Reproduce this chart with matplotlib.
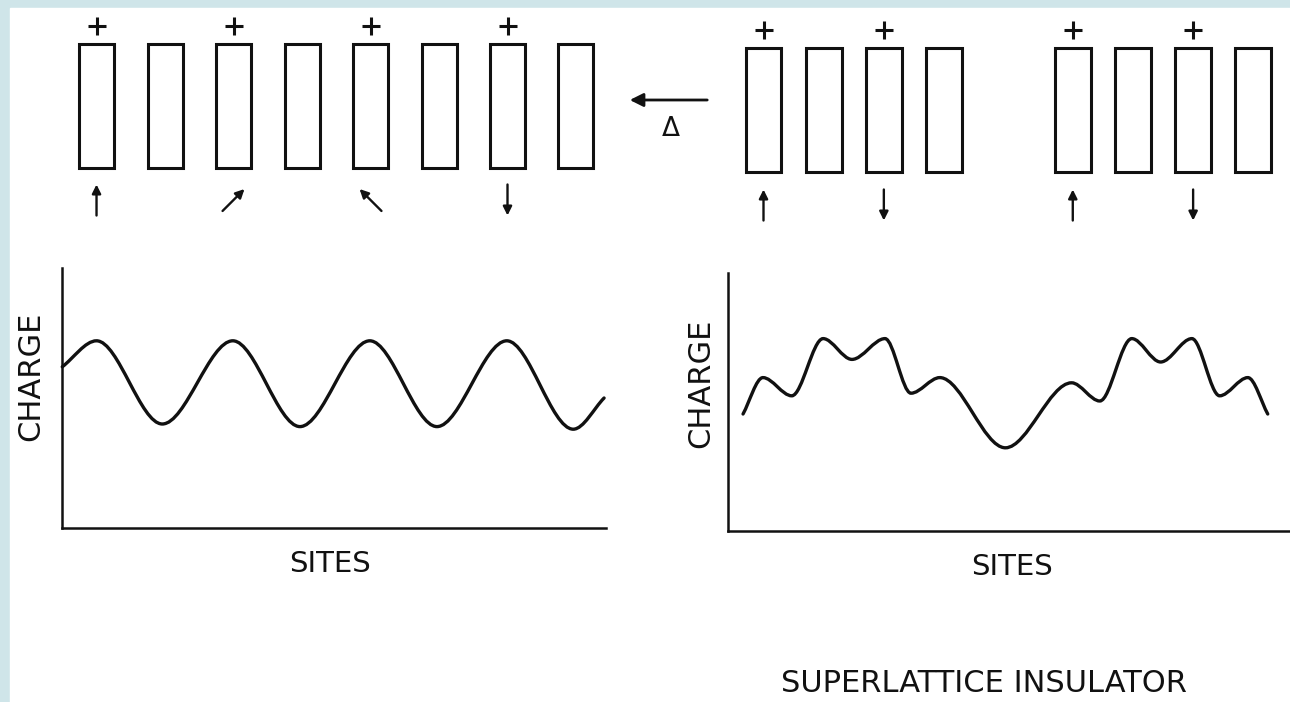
#!/usr/bin/env python3
"""
Charge density wave vs superlattice insulator sketch
"""

import numpy as np
import matplotlib.pyplot as plt
from matplotlib.path import Path
from matplotlib.patches import PathPatch, Rectangle, FancyArrowPatch
from matplotlib.transforms import ScaledTranslation

W, H, DPI = 1290, 702, 100
INK = '#111111'

# --- data ---
# left: uniform chain of 8 sites, charge on every other site
left_sites = np.arange(8)
left_plus = [0, 2, 4, 6]
left_spin_sites = [0, 2, 4, 6]
left_spin_deg = [90, 45, 135, 270]
# charge profile read at its turning points (x in site units)
left_x = [-0.50, 0.00, 0.96, 1.99, 2.97, 3.99, 4.97, 5.99, 6.96, 7.41]
left_q = [0.62, 0.72, 0.40, 0.72, 0.39, 0.72, 0.39, 0.72, 0.38, 0.50]

# right: superlattice, two blocks of 4 sites
right_sites = np.arange(8)
right_plus = [0, 2, 4, 6]
right_spin_sites = [0, 2, 4, 6]
right_spin_deg = [90, 270, 90, 270]
right_x = [-0.34, -0.01, 0.47, 0.99, 1.47, 2.02, 2.45, 2.93, 4.02,
           5.12, 5.59, 6.12, 6.60, 7.12, 7.58, 8.05, 8.38]
right_q = [0.45, 0.59, 0.52, 0.74, 0.66, 0.74, 0.53, 0.59, 0.32,
           0.57, 0.50, 0.74, 0.65, 0.74, 0.52, 0.59, 0.45]

BLOCK_GAP = 1.14  # extra spacing between the two superlattice blocks


def px_axes(fig, x0, y0, x1, y1):
    return fig.add_axes([x0 / W, 1 - y1 / H, (x1 - x0) / W, (y1 - y0) / H])


def smooth_path(xs, ys):
    # monotone cubic (pchip-style) through the read points, as Bezier segments
    x = np.asarray(xs, float)
    y = np.asarray(ys, float)
    h = np.diff(x)
    d = np.diff(y) / h
    m = np.zeros_like(x)
    m[0], m[-1] = d[0], d[-1]
    for i in range(1, len(x) - 1):
        if d[i - 1] * d[i] > 0:
            w1 = 2 * h[i] + h[i - 1]
            w2 = h[i] + 2 * h[i - 1]
            m[i] = (w1 + w2) / (w1 / d[i - 1] + w2 / d[i])
    verts = [(x[0], y[0])]
    codes = [Path.MOVETO]
    for i in range(len(x) - 1):
        verts += [(x[i] + h[i] / 3, y[i] + m[i] * h[i] / 3),
                  (x[i + 1] - h[i] / 3, y[i + 1] - m[i + 1] * h[i] / 3),
                  (x[i + 1], y[i + 1])]
        codes += [Path.CURVE4] * 3
    return Path(verts, codes)


def spin_arrow(fig, ax, x, yc, deg, length=31):
    dx = np.cos(np.radians(deg)) * length / 2 / DPI
    dy = np.sin(np.radians(deg)) * length / 2 / DPI
    head = ax.transData + ScaledTranslation(dx, dy, fig.dpi_scale_trans)
    tail = ax.transData + ScaledTranslation(-dx, -dy, fig.dpi_scale_trans)
    ax.annotate('', xy=(x, yc), xycoords=head, xytext=(x, yc), textcoords=tail,
                arrowprops=dict(arrowstyle='-|>', lw=1.7, color=INK,
                                mutation_scale=13, shrinkA=0, shrinkB=0))


def draw_row(fig, ax, pos, width, y_top, y_bot, plus, plus_y, spins, spin_deg, spin_y):
    for x in pos:
        ax.add_patch(Rectangle((x - width / 2, y_top), width, y_bot - y_top,
                               fill=False, lw=2.2, ec=INK))
    ax.plot(pos[plus], [plus_y] * len(plus), ls='none', marker='+',
            ms=13, mew=2.2, color=INK)
    for s, d in zip(spins, spin_deg):
        spin_arrow(fig, ax, pos[s], spin_y, d)


def draw_curve(ax, xs, qs):
    ax.add_patch(PathPatch(smooth_path(xs, qs), fill=False, lw=2.4, ec=INK,
                           capstyle='round', joinstyle='round', clip_on=False))
    for side in ['top', 'right']:
        ax.spines[side].set_visible(False)
    for side in ['left', 'bottom']:
        ax.spines[side].set_linewidth(1.8)
        ax.spines[side].set_color(INK)
    ax.set_xticks([])
    ax.set_yticks([])
    ax.patch.set_alpha(0)


fig = plt.figure(figsize=(W / DPI, H / DPI), dpi=DPI, facecolor='#cfe5e9')
fig.patches.append(Rectangle((10 / W, 0), 1, 1 - 8 / H, transform=fig.transFigure,
                             color='white', zorder=-1))

# left panel
ax_lt = px_axes(fig, 62, 0, 606, 250)
ax_lt.set_xlim(-0.504, 7.438)
ax_lt.set_ylim(250, 0)
ax_lt.axis('off')
draw_row(fig, ax_lt, left_sites.astype(float), 35 / 68.5, 44, 168,
         left_plus, 26, left_spin_sites, left_spin_deg, 200)

ax_lb = px_axes(fig, 62, 268, 606, 528)
ax_lb.set_xlim(-0.504, 7.438)
ax_lb.set_ylim(0, 1)
draw_curve(ax_lb, left_x, left_q)

# right panel
right_pos = right_sites + BLOCK_GAP * (right_sites >= 4)
ax_rt = px_axes(fig, 728, 0, 1290, 250)
ax_rt.set_xlim(-0.59, 8.75)
ax_rt.set_ylim(250, 0)
ax_rt.axis('off')
draw_row(fig, ax_rt, right_pos.astype(float), 36 / 60.2, 48, 172,
         right_plus, 30, right_spin_sites, right_spin_deg, 205)

ax_rb = px_axes(fig, 728, 273, 1290, 531)
ax_rb.set_xlim(-0.59, 8.75)
ax_rb.set_ylim(0, 258 / 260)
draw_curve(ax_rb, right_x, right_q)

# transition arrow between the panels
fig.patches.append(FancyArrowPatch((710 / W, 1 - 100 / H), (627 / W, 1 - 100 / H),
                                   transform=fig.transFigure, arrowstyle='-|>',
                                   mutation_scale=20, lw=2.0, color=INK))
fig.text(671 / W, 1 - 129 / H, 'Δ', ha='center', va='center', fontsize=19, color=INK)

# labels
lab = dict(color=INK, ha='center', va='center')
fig.text(31 / W, 1 - 376 / H, 'CHARGE', rotation=90, fontsize=22, **lab)
fig.text(701 / W, 1 - 383 / H, 'CHARGE', rotation=90, fontsize=22, **lab)
fig.text(330 / W, 1 - 564 / H, 'SITES', fontsize=21, **lab)
fig.text(1012 / W, 1 - 567 / H, 'SITES', fontsize=21, **lab)
fig.text(984 / W, 1 - 684 / H, 'SUPERLATTICE INSULATOR', fontsize=22, **lab)

plt.savefig('out.png', dpi=DPI, facecolor=fig.get_facecolor())
